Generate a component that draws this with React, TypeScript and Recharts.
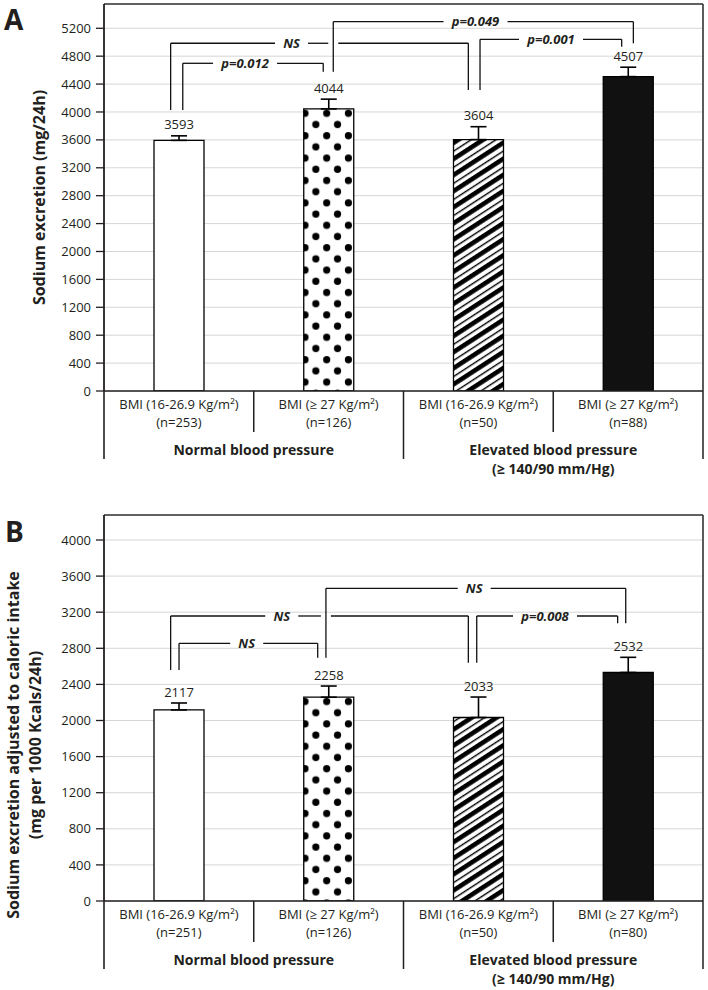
import React from 'react';
import {
  BarChart,
  Bar,
  XAxis,
  YAxis,
  CartesianGrid,
  ErrorBar,
  Cell,
  LabelList,
  ReferenceLine,
  ReferenceDot,
} from 'recharts';

// ---------- data ----------
const categoryKeys = ['c0', 'c1', 'c2', 'c3'];
const categoryLabels = ['BMI (16-26.9 Kg/m²)', 'BMI (≥ 27 Kg/m²)', 'BMI (16-26.9 Kg/m²)', 'BMI (≥ 27 Kg/m²)'];
const groupLabels = ['Normal blood pressure', 'Elevated blood pressure'];
const groupSubLabels = ['', '(≥ 140/90 mm/Hg)'];

const nA = [253, 126, 50, 88];
const valuesA = [3593, 4044, 3604, 4507];
const errorsA = [65, 140, 185, 135];
const ticksA = [0, 400, 800, 1200, 1600, 2000, 2400, 2800, 3200, 3600, 4000, 4400, 4800, 5200];
const yMaxA = 5548;

const nB = [251, 126, 50, 80];
const valuesB = [2117, 2258, 2033, 2532];
const errorsB = [77, 124, 227, 168];
const ticksB = [0, 400, 800, 1200, 1600, 2000, 2400, 2800, 3200, 3600, 4000];
const yMaxB = 4277;

// brackets: x in category-index units (bar centres at 0,1,2,3), y in data units
type Bracket = { x1: number; x2: number; top: number; end1: number; end2: number; text: string; tx: number };

const bracketsA: Bracket[] = [
  { x1: -0.055, x2: 1.933, top: 4985, end1: 4029, end2: 4315, text: 'NS', tx: 0.752 },
  { x1: 0.026, x2: 0.964, top: 4698, end1: 4029, end2: 4578, text: 'p=0.012', tx: 0.442 },
  { x1: 1.031, x2: 3.035, top: 5295, end1: 4578, end2: 4985, text: 'p=0.049', tx: 1.981 },
  { x1: 2.011, x2: 2.957, top: 5042, end1: 4315, end2: 4936, text: 'p=0.001', tx: 2.485 },
];

const bracketsB: Bracket[] = [
  { x1: -0.055, x2: 1.933, top: 3158, end1: 2560, end2: 2640, text: 'NS', tx: 0.687 },
  { x1: 0.001, x2: 0.927, top: 2855, end1: 2560, end2: 2696, text: 'NS', tx: 0.453 },
  { x1: 0.982, x2: 2.984, top: 3465, end1: 2696, end2: 3077, text: 'NS', tx: 1.972 },
  { x1: 1.989, x2: 2.93, top: 3158, end1: 2640, end2: 3077, text: 'p=0.008', tx: 2.445 },
];

// ---------- layout / style ----------
const W = 708;
const PLOT_LEFT = 104;
const PLOT_RIGHT = 703;
const PLOT_W = PLOT_RIGHT - PLOT_LEFT;
const BAND = PLOT_W / 4;
const PX_PER_X = PLOT_W / 4;
const INK = '#231f20';
const FONT = "'Open Sans', 'Noto Sans', sans-serif";

const buildData = (vals: number[], errs: number[]) =>
  categoryKeys.map((k, i) => ({ key: k, idx: i, value: vals[i], err: [0, errs[i]] }));

const dataA = buildData(valuesA, errorsA);
const dataB = buildData(valuesB, errorsB);

function bracketSegments(b: Bracket, all: Bracket[]): [number, number][] {
  const cuts: [number, number][] = [];
  const tg = (b.text.length * 6.2 + 20.6) / 2 / PX_PER_X;
  cuts.push([b.tx - tg, b.tx + tg]);
  all.forEach((o) => {
    if (o === b) return;
    const legs: [number, number][] = [
      [o.x1, o.end1],
      [o.x2, o.end2],
    ];
    legs.forEach(([lx, ly]) => {
      if (lx > b.x1 && lx < b.x2 && b.top > Math.min(ly, o.top) && b.top < Math.max(ly, o.top)) {
        const h = 5 / PX_PER_X;
        cuts.push([lx - h, lx + h]);
      }
    });
  });
  cuts.sort((a, c) => a[0] - c[0]);
  const segs: [number, number][] = [];
  let cur = b.x1;
  for (const [s, e] of cuts) {
    if (s > cur) segs.push([cur, s]);
    cur = Math.max(cur, e);
  }
  if (cur < b.x2) segs.push([cur, b.x2]);
  return segs;
}

function renderBrackets(brackets: Bracket[], prefix: string) {
  const out: React.ReactNode[] = [];
  brackets.forEach((b, bi) => {
    const lineProps = { xAxisId: 'n', stroke: '#111', strokeWidth: 1.3, ifOverflow: 'visible' as const };
    out.push(
      <ReferenceLine
        key={`${prefix}-l1-${bi}`}
        {...lineProps}
        segment={[
          { x: b.x1, y: b.end1 },
          { x: b.x1, y: b.top },
        ]}
      />
    );
    out.push(
      <ReferenceLine
        key={`${prefix}-l2-${bi}`}
        {...lineProps}
        segment={[
          { x: b.x2, y: b.end2 },
          { x: b.x2, y: b.top },
        ]}
      />
    );
    bracketSegments(b, brackets).forEach(([s, e], si) => {
      out.push(
        <ReferenceLine
          key={`${prefix}-h-${bi}-${si}`}
          {...lineProps}
          segment={[
            { x: s, y: b.top },
            { x: e, y: b.top },
          ]}
        />
      );
    });
    out.push(
      <ReferenceDot
        key={`${prefix}-t-${bi}`}
        xAxisId="n"
        x={b.tx}
        y={b.top}
        r={0}
        fill="none"
        stroke="none"
        ifOverflow="visible"
        label={(p: any) => {
          const vb = p.viewBox || {};
          const cx = (vb.x ?? 0) + (vb.width ?? 0) / 2;
          const cy = (vb.y ?? 0) + (vb.height ?? 0) / 2;
          return (
            <text
              x={cx}
              y={cy}
              dy="0.35em"
              textAnchor="middle"
              fontFamily={FONT}
              fontSize={13}
              fontWeight={700}
              fontStyle="italic"
              fill={INK}
            >
              {b.text}
            </text>
          );
        }}
      />
    );
  });
  return out;
}

const makeCategoryTick = (nList: number[]) => (props: any) => {
  const { x, y, payload } = props;
  const i = categoryKeys.indexOf(payload.value);
  const half = BAND / 2;
  const isGroupEnd = i % 2 === 1;
  const g = Math.floor(i / 2);
  return (
    <g>
      <text x={x} y={y + 13} dy="0.35em" textAnchor="middle" fontFamily={FONT} fontSize={13} fill={INK}>
        {categoryLabels[i]}
      </text>
      <text x={x} y={y + 31} dy="0.35em" textAnchor="middle" fontFamily={FONT} fontSize={13} fill={INK}>
        (n={nList[i]})
      </text>
      <line x1={x + half} x2={x + half} y1={y} y2={y + (isGroupEnd ? 68 : 41)} stroke={INK} strokeWidth={1.5} />
      {i === 0 && <line x1={x - half} x2={x - half} y1={y} y2={y + 68} stroke={INK} strokeWidth={1.6} />}
      {isGroupEnd && (
        <text x={x - half} y={y + 59} dy="0.35em" textAnchor="middle" fontFamily={FONT} fontSize={14} fontWeight={700} fill={INK}>
          {groupLabels[g]}
        </text>
      )}
      {isGroupEnd && groupSubLabels[g] && (
        <text x={x - half} y={y + 78} dy="0.35em" textAnchor="middle" fontFamily={FONT} fontSize={14} fontWeight={700} fill={INK}>
          {groupSubLabels[g]}
        </text>
      )}
    </g>
  );
};

const makeValueLabel = (errs: number[]) => (props: any) => {
  const vb = props.viewBox || props;
  const x = vb.x ?? props.x;
  const y = vb.y ?? props.y;
  const width = vb.width ?? props.width;
  const height = vb.height ?? props.height;
  const value = Number(props.value);
  const index = props.index ?? 0;
  const ppu = height / value;
  const top = y - errs[index] * ppu;
  return (
    <text x={x + width / 2} y={top - 11} dy="0.35em" textAnchor="middle" fontFamily={FONT} fontSize={13} fill={INK}>
      {value}
    </text>
  );
};

type PanelProps = {
  id: string;
  data: any[];
  errs: number[];
  nList: number[];
  ticks: number[];
  yMax: number;
  brackets: Bracket[];
  height: number;
  marginTop: number;
  dotsOrigin: [number, number];
};

function Panel({ id, data, errs, nList, ticks, yMax, brackets, height, marginTop, dotsOrigin }: PanelProps) {
  const fills = ['#ffffff', `url(#dots${id})`, `url(#stripes${id})`, '#111111'];
  return (
    <BarChart
      width={W}
      height={height}
      data={data}
      margin={{ top: marginTop, right: W - PLOT_RIGHT, left: PLOT_LEFT - 60, bottom: 19 }}
      barCategoryGap={0}
    >
      <defs>
        <pattern
          id={`dots${id}`}
          patternUnits="userSpaceOnUse"
          x={dotsOrigin[0]}
          y={dotsOrigin[1]}
          width={21.7}
          height={22.4}
        >
          <rect x={0} y={0} width={21.7} height={22.4} fill="#fff" />
          <circle cx={5.4} cy={5.6} r={3.6} fill="#000" />
          <circle cx={16.25} cy={16.8} r={3.6} fill="#000" />
        </pattern>
        <pattern
          id={`stripes${id}`}
          patternUnits="userSpaceOnUse"
          width={10}
          height={13.5}
          patternTransform="rotate(-33)"
        >
          <rect x={0} y={0} width={10} height={13.5} fill="#fff" />
          <rect x={0} y={0} width={10} height={4.6} fill="#000" />
          <rect x={0} y={8.6} width={10} height={1.4} fill="#000" />
        </pattern>
      </defs>
      <CartesianGrid vertical={false} stroke="#d6d6d6" strokeWidth={1} />
      <XAxis
        dataKey="key"
        type="category"
        interval={0}
        tickLine={false}
        tickSize={0}
        tickMargin={0}
        height={70}
        axisLine={{ stroke: INK, strokeWidth: 1.6 }}
        tick={makeCategoryTick(nList)}
      />
      <XAxis xAxisId="n" dataKey="idx" type="number" domain={[-0.5, 3.5]} allowDataOverflow hide />
      <YAxis
        type="number"
        domain={[0, yMax]}
        ticks={ticks}
        allowDataOverflow
        interval={0}
        width={60}
        tickSize={8}
        tickMargin={5}
        axisLine={{ stroke: INK, strokeWidth: 1.8 }}
        tickLine={{ stroke: INK, strokeWidth: 1.3 }}
        tick={{ fontSize: 13, fill: INK, fontFamily: FONT }}
      />
      <ReferenceLine y={yMax} stroke="#333" strokeWidth={1.6} ifOverflow="visible" />
      <ReferenceLine xAxisId="n" x={3.5} stroke="#333" strokeWidth={1.6} ifOverflow="visible" />
      <Bar dataKey="value" barSize={50} isAnimationActive={false} stroke="#000" strokeWidth={1.3}>
        {data.map((d, i) => (
          <Cell key={d.key} fill={fills[i]} />
        ))}
        <ErrorBar dataKey="err" width={8} stroke="#000" strokeWidth={1.6} direction="y" />
        <LabelList dataKey="value" content={makeValueLabel(errs)} />
      </Bar>
      {renderBrackets(brackets, id)}
    </BarChart>
  );
}

export default function App() {
  return (
    <div style={{ position: 'absolute', left: 0, top: 0, width: 708, height: 990, background: '#fff', overflow: 'hidden' }}>
      <div style={{ position: 'absolute', left: 0, top: 0 }}>
        <Panel
          id="A"
          data={dataA}
          errs={errorsA}
          nList={nA}
          ticks={ticksA}
          yMax={yMaxA}
          brackets={bracketsA}
          height={480}
          marginTop={4}
          dotsOrigin={[299.6, 107.7]}
        />
      </div>
      <div style={{ position: 'absolute', left: 0, top: 490 }}>
        <Panel
          id="B"
          data={dataB}
          errs={errorsB}
          nList={nB}
          ticks={ticksB}
          yMax={yMaxB}
          brackets={bracketsB}
          height={500}
          marginTop={25}
          dotsOrigin={[299.6, 205.9]}
        />
      </div>
      <svg width={708} height={990} style={{ position: 'absolute', left: 0, top: 0, pointerEvents: 'none' }}>
        <text x={4} y={30} fontFamily={FONT} fontSize={28} fontWeight={700} fill={INK}>
          A
        </text>
        <text x={5} y={541.5} fontFamily={FONT} fontSize={28} fontWeight={700} fill={INK}>
          B
        </text>
        <text
          transform="translate(45,197.5) rotate(-90)"
          textAnchor="middle"
          fontFamily={FONT}
          fontSize={16}
          fontWeight={700}
          fill={INK}
        >
          Sodium excretion (mg/24h)
        </text>
        <text
          transform="translate(18.5,745) rotate(-90)"
          textAnchor="middle"
          fontFamily={FONT}
          fontSize={16}
          fontWeight={700}
          fill={INK}
        >
          Sodium excretion adjusted to caloric intake
        </text>
        <text
          transform="translate(40.5,745) rotate(-90)"
          textAnchor="middle"
          fontFamily={FONT}
          fontSize={16}
          fontWeight={700}
          fill={INK}
        >
          (mg per 1000 Kcals/24h)
        </text>
      </svg>
    </div>
  );
}
